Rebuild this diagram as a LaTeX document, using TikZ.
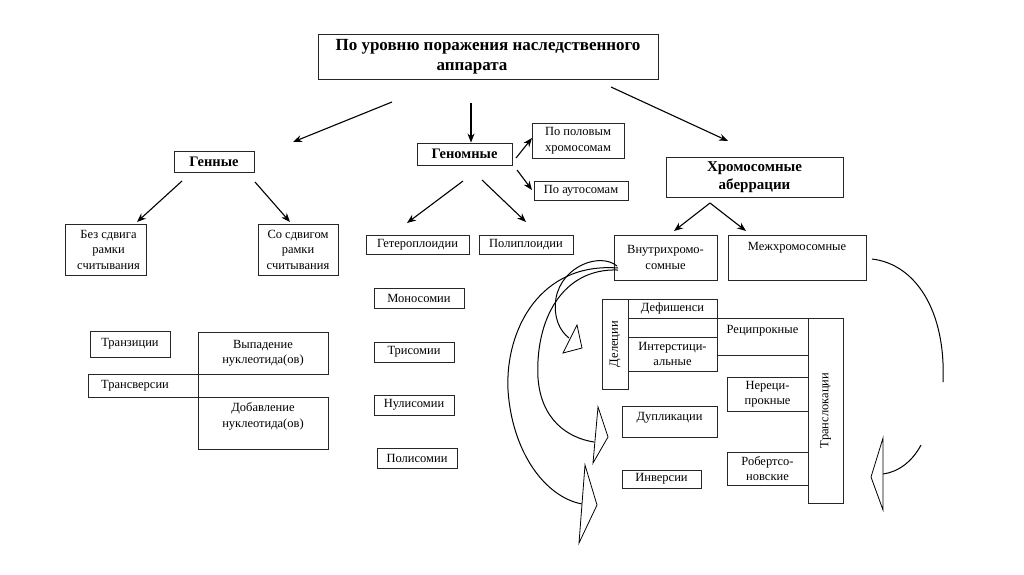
\documentclass[tikz,border=0pt]{standalone}
\usepackage{fontspec}
\setmainfont{Liberation Serif}
\usetikzlibrary{arrows.meta}
\begin{document}
\begin{tikzpicture}[x=1pt,y=-1pt,
  box/.style={draw=black!85, line width=0.9pt, inner sep=0pt, align=center, font=\fontsize{12.5}{15.5}\selectfont},
  bbox/.style={box, font=\fontsize{14.5}{17}\selectfont\bfseries},
  txt/.style={inner sep=0pt, align=center, font=\fontsize{12.5}{15.5}\selectfont},
  arr/.style={-{Stealth[length=9pt,width=7pt]}, line width=1.1pt},
  crv/.style={line width=1pt},
  head/.style={draw, fill=white, line width=0.8pt, line join=miter}]
\fill[white] (0,0) rectangle (1024,574);
\useasboundingbox (0,0) rectangle (1024,574);

% top
\node[box, minimum width=340pt, minimum height=45pt, font=\fontsize{17}{20}\selectfont\bfseries] (title) at (488,57) {По уровню поражения наследственного\\аппарата\hspace*{32pt}};

\node[bbox, minimum width=80pt, minimum height=21pt] (genn) at (214,161.5) {Генные};
\node[bbox, minimum width=95pt, minimum height=22pt] (genom) at (464.5,154) {Геномные};
\node[box, minimum width=92pt, minimum height=35pt, font=\fontsize{12.5}{16}\selectfont] (polov) at (578,140.5) {По половым\\хромосомам};
\node[box, minimum width=94pt, minimum height=19pt] (auto) at (581,190.5) {По аутосомам};
\node[bbox, minimum width=177pt, minimum height=40pt, font=\fontsize{15}{17.5}\selectfont\bfseries] (chrom) at (754.5,177) {Хромосомные\\аберрации};

% genic
\node[box, minimum width=81pt, minimum height=51pt] (bez) at (105.5,249.5) {\hspace*{6pt}Без сдвига\\\hspace*{6pt}рамки\\\hspace*{6pt}считывания};
\node[box, minimum width=80pt, minimum height=51pt] (so) at (298,249.5) {Со сдвигом\\рамки\\считывания};
\node[box, minimum width=80pt, minimum height=26pt] (tranzi) at (130,344) {Транзиции};
\node[box, minimum width=130pt, minimum height=42pt] (vypad) at (263,353) {Выпадение\\нуклеотида(ов)};
\node[box, minimum width=110pt, minimum height=23pt] (transv) at (143,385.5) {Трансверсии\hspace*{16pt}};
\node[box, minimum width=130pt, minimum height=52pt] (dobav) at (263,423) {};
\node[txt] (dobavT) at (263,416.5) {Добавление\\нуклеотида(ов)};

% genomic
\node[box, minimum width=103pt, minimum height=19pt] (getero) at (417.5,244.5) {Гетероплоидии};
\node[box, minimum width=94pt, minimum height=19pt] (polipl) at (526,244.5) {Полиплоидии};
\node[box, minimum width=90pt, minimum height=20pt] (mono) at (419,298) {Моносомии};
\node[box, minimum width=80pt, minimum height=20pt] (tri) at (414,352) {Трисомии};
\node[box, minimum width=80pt, minimum height=20pt] (nuli) at (414,405) {Нулисомии};
\node[box, minimum width=80pt, minimum height=20pt] (polis) at (417,458) {Полисомии};

% chromosomal
\node[box, minimum width=103pt, minimum height=45pt] (vnutri) at (665.5,257.5) {Внутрихромо-\\сомные};
\node[box, minimum width=138pt, minimum height=45pt] (mezh) at (797,257.5) {};
\node[txt] (mezhT) at (797,248) {Межхромосомные};

\node[box, rotate=90, minimum width=90pt, minimum height=26pt] (delet) at (615,344) {Делеции};
\node[box, minimum width=89pt, minimum height=19pt] (defi) at (672.5,308.5) {Дефишенси};
\node[box, minimum width=89pt, minimum height=19pt] (gap) at (672.5,327.5) {};
\node[box, minimum width=89pt, minimum height=34pt] (inters) at (672.5,354) {Интерстици-\\альные};
\node[box, minimum width=91pt, minimum height=37pt] (recip) at (762.5,336.5) {};
\node[txt] (recipT) at (762.5,331) {Реципрокные};
\node[box, rotate=90, minimum width=185pt, minimum height=35pt] (transl) at (825.5,410.5) {Транслокации};
\node[box, minimum width=81pt, minimum height=34pt] (nereci) at (767.5,394) {Нереци-\\прокные};
\node[box, minimum width=81pt, minimum height=33pt] (robert) at (767.5,468.5) {Робертсо-\\новские};
\node[box, minimum width=95pt, minimum height=31pt] (dupl) at (669.5,421.5) {};
\node[txt] (duplT) at (669.5,418) {Дупликации};
\node[box, minimum width=79pt, minimum height=18pt] (inver) at (661.5,479) {Инверсии};

% straight arrows
\coordinate (t1s) at (392,102); \coordinate (t1e) at (293,142);
\coordinate (t2s) at (471,103);
\coordinate (t3s) at (611,87); \coordinate (t3e) at (728,141);
\draw[arr] (t1s) -- (t1e);
\draw[arr] (t2s) -- (t2s |- genom.north);
\draw[arr] (t3s) -- (t3e);

\coordinate (g1s) at (182,181); \coordinate (g1e) at (137,222);
\coordinate (g2s) at (255,182); \coordinate (g2e) at (290,222);
\draw[arr] (g1s) -- (g1e);
\draw[arr] (g2s) -- (g2e);

\coordinate (n1s) at (463,181); \coordinate (n1e) at (407,223);
\coordinate (n2s) at (482,180); \coordinate (n2e) at (526,222);
\coordinate (n3s) at (516,158); \coordinate (n3e) at (532,138);
\coordinate (n4s) at (517,170); \coordinate (n4e) at (532,190);
\draw[arr] (n1s) -- (n1e);
\draw[arr] (n2s) -- (n2e);
\draw[arr] (n3s) -- (n3e);
\draw[arr] (n4s) -- (n4e);

\coordinate (apex) at (710,203);
\coordinate (c1e) at (674,231); \coordinate (c2e) at (746,231);
\draw[arr] (apex) -- (c1e);
\draw[arr] (apex) -- (c2e);

% curved block arrows
\coordinate (va) at (617,266);
\coordinate (vb) at (618,270);
\coordinate (vc) at (618,268);
\draw[crv] (va) .. controls (600,252) and (562,266) .. (556,298) .. controls (553,318) and (560,331) .. (569,338);
\draw[head] (577,325) -- (582,348) -- (563,353) -- cycle;
\draw[crv] (vb) .. controls (562,268) and (535,320) .. (538,378) .. controls (541,420) and (568,438) .. (594,442);
\draw[head] (598,407) -- (608,437) -- (593,463) -- cycle;
\draw[crv] (vc) .. controls (540,262) and (505,330) .. (508,390) .. controls (512,452) and (545,497) .. (582,504);
\draw[head] (585,465) -- (597,505) -- (579,543) -- cycle;

\coordinate (ma) at (872,259);
\coordinate (mb) at (943,382);
\draw[crv] (ma) .. controls (915,264) and (946,310) .. (mb);
\coordinate (mc) at (921,445);
\draw[crv] (mc) .. controls (912,462) and (898,472) .. (883,474);
\draw[head] (883,438) -- (871,477) -- (883,510) -- cycle;
\end{tikzpicture}
\end{document}
